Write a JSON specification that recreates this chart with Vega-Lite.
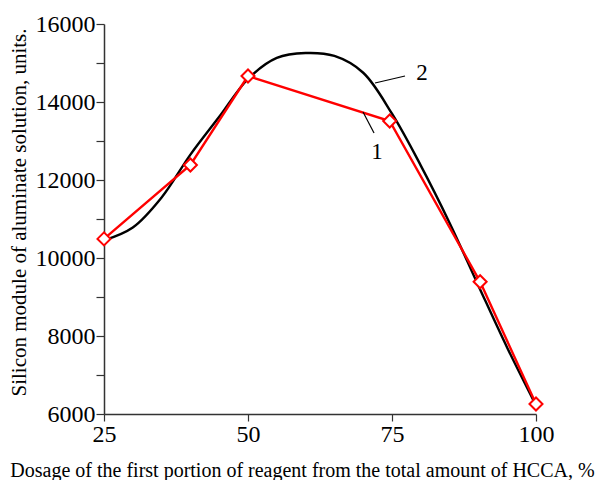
{
  "$schema": "https://vega.github.io/schema/vega-lite/v6.json",
  "width": 432,
  "height": 390,
  "autosize": {"type": "none"},
  "padding": {"left": 104, "top": 24, "right": 59, "bottom": 66},
  "background": "white",
  "config": {
    "view": {"stroke": null},
    "font": "Liberation Serif",
    "axis": {"grid": false, "labelFont": "Liberation Serif", "titleFont": "Liberation Serif", "labelColor": "black", "titleColor": "black", "titleFontWeight": "normal", "domainColor": "#333", "tickColor": "#333", "domainWidth": 1.5, "tickWidth": 1.2}
  },
  "datasets": {
    "curve": [
      {"x": 25, "y": 10450}, {"x": 30, "y": 10780}, {"x": 35, "y": 11550}, {"x": 40, "y": 12650},
      {"x": 45, "y": 13620}, {"x": 50, "y": 14590}, {"x": 55, "y": 15130}, {"x": 60, "y": 15256},
      {"x": 65, "y": 15180}, {"x": 70, "y": 14750}, {"x": 75, "y": 13700}, {"x": 80, "y": 12370},
      {"x": 85, "y": 10900}, {"x": 90, "y": 9290}, {"x": 95, "y": 7700}, {"x": 100, "y": 6220}
    ],
    "points": [
      {"x": 25, "y": 10490}, {"x": 40, "y": 12385}, {"x": 50, "y": 14667},
      {"x": 74.6, "y": 13513}, {"x": 90.3, "y": 9390}, {"x": 100, "y": 6256}
    ],
    "leaders": [
      {"x": 72.05, "y": 14487, "x2": 77.26, "y2": 14667},
      {"x": 69.97, "y": 13744, "x2": 71.88, "y2": 13205}
    ],
    "labels": [
      {"x": 80.2, "y": 14744, "t": "2"},
      {"x": 72.4, "y": 12718, "t": "1"}
    ]
  },
  "encoding": {
    "x": {"field": "x", "type": "quantitative", "scale": {"domain": [25, 100], "nice": false, "zero": false},
      "axis": {"values": [25, 50, 75, 100], "tickSize": 7, "labelFontSize": 24, "labelPadding": 1, "labelFlush": false, "labelDx": -2,
        "title": "Dosage of the first portion of reagent from the total amount of HCCA, %", "titleFontSize": 20,
        "titleX": 198, "titleY": 62, "titleBaseline": "alphabetic", "titleAnchor": null}},
    "y": {"field": "y", "type": "quantitative", "scale": {"domain": [6000, 16000], "nice": false, "zero": false},
      "axis": {"values": [6000, 7000, 8000, 9000, 10000, 11000, 12000, 13000, 14000, 15000, 16000], "tickSize": 8, "labelFontSize": 24, "labelPadding": 1,
        "format": "d", "labelExpr": "datum.value % 2000 === 0 ? datum.label : ''", "labelOverlap": false,
        "title": "Silicon module of aluminate solution, units.", "titleFontSize": 21,
        "titleX": -79, "titleY": 188, "titleBaseline": "alphabetic", "titleAngle": 270, "titleAlign": "center"}}
  },
  "layer": [
    {"data": {"name": "curve"}, "mark": {"type": "line", "interpolate": "catmull-rom", "color": "black", "strokeWidth": 2.4}},
    {"data": {"name": "points"}, "mark": {"type": "line", "color": "#ff0000", "strokeWidth": 2.4}},
    {"data": {"name": "points"}, "mark": {"type": "point", "shape": "diamond", "filled": true, "fill": "white", "stroke": "#ff0000", "strokeWidth": 2, "size": 170, "opacity": 1}},
    {"data": {"name": "leaders"}, "mark": {"type": "rule", "color": "black", "strokeWidth": 1.2},
      "encoding": {"x2": {"field": "x2"}, "y2": {"field": "y2"}}},
    {"data": {"name": "labels"}, "mark": {"type": "text", "fontSize": 23, "font": "Liberation Serif", "color": "black", "align": "center", "baseline": "middle"},
      "encoding": {"text": {"field": "t"}}}
  ]
}
